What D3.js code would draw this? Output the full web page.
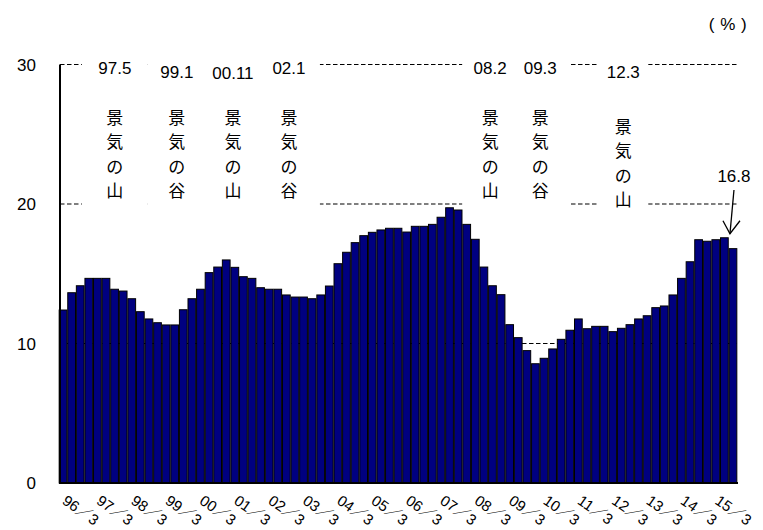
<!DOCTYPE html>
<html><head><meta charset="utf-8">
<script src="https://cdn.jsdelivr.net/npm/d3@7"></script>
<style>body{margin:0;background:#fff}svg{display:block}</style>
</head><body><svg id="chart" width="763" height="530"></svg>
<script>
// ---- data ----
const categories = [
 "96/3","96/6","96/9","96/12","97/3","97/6","97/9","97/12","98/3","98/6","98/9","98/12",
 "99/3","99/6","99/9","99/12","00/3","00/6","00/9","00/12","01/3","01/6","01/9","01/12",
 "02/3","02/6","02/9","02/12","03/3","03/6","03/9","03/12","04/3","04/6","04/9","04/12",
 "05/3","05/6","05/9","05/12","06/3","06/6","06/9","06/12","07/3","07/6","07/9","07/12",
 "08/3","08/6","08/9","08/12","09/3","09/6","09/9","09/12","10/3","10/6","10/9","10/12",
 "11/3","11/6","11/9","11/12","12/3","12/6","12/9","12/12","13/3","13/6","13/9","13/12",
 "14/3","14/6","14/9","14/12","15/3","15/6","15/9"];
const values = [
 12.4,13.64,14.14,14.67,14.67,14.67,13.89,13.76,13.21,12.28,11.76,11.49,
 11.33,11.33,12.42,13.21,13.89,15.08,15.48,15.99,15.46,14.79,14.67,14.0,
 13.89,13.89,13.48,13.33,13.33,13.21,13.48,14.12,15.72,16.54,17.23,17.73,
 17.97,18.14,18.26,18.26,17.99,18.4,18.4,18.54,19.05,19.73,19.57,18.54,
 17.47,15.48,14.14,13.5,11.35,10.42,9.49,8.55,8.94,9.61,10.3,10.95,
 11.76,11.06,11.23,11.23,10.85,11.09,11.35,11.76,11.99,12.57,12.69,13.48,
 14.67,15.86,17.44,17.33,17.44,17.58,16.8];
const yTicks = [0, 10, 20, 30];
const yearTickCats = ["96/3","97/3","98/3","99/3","00/3","01/3","02/3","03/3","04/3","05/3",
 "06/3","07/3","08/3","09/3","10/3","11/3","12/3","13/3","14/3","15/3"];
const yearTickLabels = ["96／3","97／3","98／3","99／3","00／3","01／3","02／3","03／3","04／3","05／3",
 "06／3","07／3","08／3","09／3","10／3","11／3","12／3","13／3","14／3","15／3"];
const cycleDates = ["97.5","99.1","00.11","02.1","08.2","09.3","12.3"];
const cycleNames = ["景気の山","景気の谷","景気の山","景気の谷","景気の山","景気の谷","景気の山"];
const latestLabel = "16.8";
const unitLabel = "( % )";

// ---- layout ----
const annPos   = [6.03, 13.25, 19.78, 26.3, 49.73, 55.56, 65.23]; // fractional category index
const annHalfW = [33, 29, 29, 31, 28, 30, 25];
const annDateDy = [0, 4, 5, 0, 0, 0, 4];
const annTextDy = [0, 0, 0, 0, 0, 0, 9];

const svg = d3.select("#chart");
const latin = "'Liberation Sans', Arial, 'Noto Sans CJK JP', sans-serif";
const cjk = "'Noto Sans CJK JP', sans-serif";

const x = d3.scaleBand().domain(categories).range([59, 737]).paddingInner(0.1).paddingOuter(0.02);
const y = d3.scaleLinear().domain([0, 30]).range([483, 64.5]);
const posAt = f => { const i = Math.floor(f); return x(categories[i]) + (f - i) * x.step() + x.bandwidth() / 2; };

// gridlines (dashed)
svg.append("g").selectAll("line").data(yTicks.filter(d => d > 0)).join("line")
  .attr("x1", 60).attr("x2", 739).attr("y1", d => y(d)).attr("y2", d => y(d))
  .attr("stroke", "#000").attr("stroke-width", 1.1).attr("stroke-dasharray", "4.5,2.5");

// white annotation boxes
svg.append("g").selectAll("rect").data(annPos).join("rect")
  .attr("x", (d, i) => posAt(d) - annHalfW[i]).attr("width", (d, i) => annHalfW[i] * 2)
  .attr("y", 54).attr("height", 160).attr("fill", "#fff");

// bars
svg.append("g").selectAll("rect").data(values).join("rect")
  .attr("x", (d, i) => x(categories[i])).attr("width", x.bandwidth())
  .attr("y", d => y(d)).attr("height", d => y(0) - y(d))
  .attr("fill", "#000080").attr("stroke", "#000").attr("stroke-width", 1);

// axes lines
svg.append("line").attr("x1", 60).attr("x2", 60).attr("y1", y(30)).attr("y2", y(0))
  .attr("stroke", "#000").attr("stroke-width", 2);
svg.append("line").attr("x1", 59).attr("x2", 738).attr("y1", y(0)).attr("y2", y(0))
  .attr("stroke", "#000").attr("stroke-width", 2);

// y tick labels
svg.append("g").selectAll("text").data(yTicks).join("text")
  .attr("x", 36).attr("y", d => y(d) + 6).attr("text-anchor", "end").attr("fill", "#000")
  .attr("font-family", latin).attr("font-size", 17).text(d => d);

// x tick labels
svg.append("g").selectAll("text").data(yearTickCats).join("text")
  .attr("transform", d => `translate(${x(d) + 2},${503}) rotate(35)`).attr("fill", "#000")
  .attr("font-family", latin).attr("font-size", 15).text((d, i) => yearTickLabels[i]);

// annotations
const ann = svg.append("g").attr("fill", "#000");
annPos.forEach((p, i) => {
  const cx = posAt(p);
  ann.append("text").attr("x", cx).attr("y", 74 + annDateDy[i]).attr("text-anchor", "middle")
    .attr("font-family", latin).attr("font-size", 17).text(cycleDates[i]);
  Array.from(cycleNames[i]).forEach((ch, k) => {
    ann.append("text").attr("x", cx).attr("y", 123.5 + k * 24.5 + annTextDy[i])
      .attr("text-anchor", "middle").attr("font-family", cjk).attr("font-size", 17).text(ch);
  });
});

// unit
svg.append("text").attr("x", 728).attr("y", 30).attr("text-anchor", "middle").attr("fill", "#000")
  .attr("font-family", latin).attr("font-size", 17).attr("letter-spacing", 0.5).text(unitLabel);

// latest value callout
const last = categories.length - 1;
const lx = posAt(last) + 1;
svg.append("text").attr("x", lx).attr("y", 182).attr("text-anchor", "middle").attr("fill", "#000")
  .attr("font-family", latin).attr("font-size", 17).text(latestLabel);
const tipY = y(values[last - 1]) - 4;
const tipX = lx - 4;
const arrow = svg.append("g").attr("stroke", "#000").attr("stroke-width", 1.3).attr("fill", "none");
arrow.append("line").attr("x1", lx).attr("y1", 190).attr("x2", tipX).attr("y2", tipY);
arrow.append("polyline").attr("points", `${tipX - 7},${tipY - 13} ${tipX},${tipY} ${tipX + 10},${tipY - 13}`);
</script></body></html>
